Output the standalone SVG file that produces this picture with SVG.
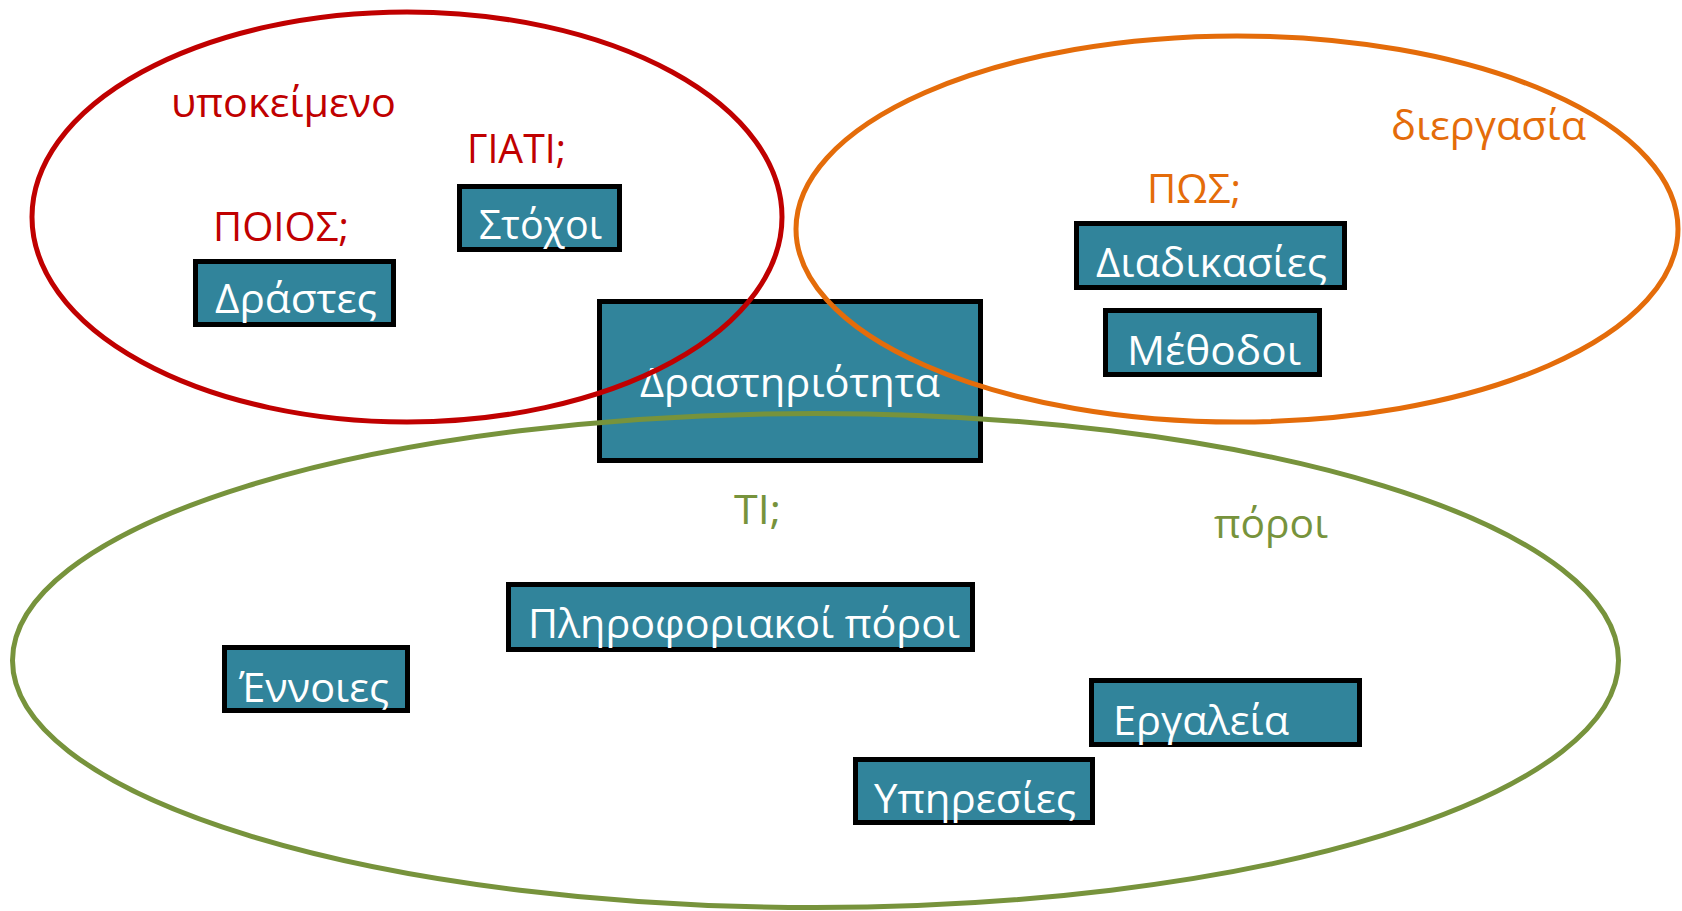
<svg xmlns="http://www.w3.org/2000/svg" width="1682" height="911" viewBox="0 0 1682 911">
<style>
.box{fill:#31849B;stroke:#000;stroke-width:5}
.bt{font-family:"Open Sans","Noto Sans",sans-serif;font-size:41px;fill:#fff}
.lbl{font-family:"Open Sans","Noto Sans",sans-serif;font-size:41px}
.red{fill:#C00000}.org{fill:#E46C0A}.grn{fill:#77933C}
.ell{fill:none;stroke-width:5}
</style>
<rect width="1682" height="911" fill="#fff"/>
<g id="node-drastiriotita">
<rect class="box" x="599.5" y="301.5" width="381" height="159"/>
<text class="bt" x="640" y="397" textLength="300" lengthAdjust="spacingAndGlyphs">Δραστηριότητα</text>
</g>
<g id="ellipses">
<ellipse id="ell-subject" class="ell" cx="407" cy="217" rx="375" ry="205" stroke="#C00000"/>
<ellipse id="ell-process" class="ell" cx="1237" cy="229" rx="441" ry="193" stroke="#E46C0A"/>
<ellipse id="ell-resources" class="ell" cx="815.5" cy="660.5" rx="803" ry="247" stroke="#77933C"/>
</g>
<g id="connectors"></g>
<g id="label-ypokeimeno"><text class="lbl red" x="171" y="117" textLength="225" lengthAdjust="spacingAndGlyphs">υποκείμενο</text></g>
<g id="label-giati"><text class="lbl red" x="467" y="163" textLength="99" lengthAdjust="spacingAndGlyphs">ΓΙΑΤΙ;</text></g>
<g id="label-poios"><text class="lbl red" x="213" y="241" textLength="136" lengthAdjust="spacingAndGlyphs">ΠΟΙΟΣ;</text></g>
<g id="label-diergasia"><text class="lbl org" x="1391" y="140" textLength="195" lengthAdjust="spacingAndGlyphs">διεργασία</text></g>
<g id="label-pos"><text class="lbl org" x="1147" y="203" textLength="94" lengthAdjust="spacingAndGlyphs">ΠΩΣ;</text></g>
<g id="label-ti"><text class="lbl grn" x="734" y="524" textLength="47" lengthAdjust="spacingAndGlyphs">ΤΙ;</text></g>
<g id="label-poroi"><text class="lbl grn" x="1214" y="538" textLength="114" lengthAdjust="spacingAndGlyphs">πόροι</text></g>
<g id="node-drastes">
<rect class="box" x="195.5" y="261.5" width="198" height="63"/>
<text class="bt" x="215" y="313" textLength="162" lengthAdjust="spacingAndGlyphs">Δράστες</text>
</g>
<g id="node-stoxoi">
<rect class="box" x="459.5" y="186.5" width="160" height="63"/>
<text class="bt" x="479" y="239" textLength="123" lengthAdjust="spacingAndGlyphs">Στόχοι</text>
</g>
<g id="node-diadikasies">
<rect class="box" x="1076.5" y="223.5" width="268" height="64"/>
<text class="bt" x="1096" y="277" textLength="231" lengthAdjust="spacingAndGlyphs">Διαδικασίες</text>
</g>
<g id="node-methodoi">
<rect class="box" x="1105.5" y="310.5" width="214" height="64"/>
<text class="bt" x="1127" y="365" textLength="174" lengthAdjust="spacingAndGlyphs">Μέθοδοι</text>
</g>
<g id="node-ennoies">
<rect class="box" x="224.5" y="647.5" width="183" height="63"/>
<text class="bt" x="239" y="702" textLength="150" lengthAdjust="spacingAndGlyphs">Έννοιες</text>
</g>
<g id="node-pliroforiakoi">
<rect class="box" x="508.5" y="584.5" width="464" height="65"/>
<text class="bt" x="528" y="638" textLength="432" lengthAdjust="spacingAndGlyphs">Πληροφοριακοί πόροι</text>
</g>
<g id="node-ergaleia">
<rect class="box" x="1091.5" y="680.5" width="268" height="64"/>
<text class="bt" x="1113" y="735" textLength="176" lengthAdjust="spacingAndGlyphs">Εργαλεία</text>
</g>
<g id="node-ypiresies">
<rect class="box" x="855.5" y="759.5" width="237" height="63"/>
<text class="bt" x="874" y="813" textLength="202" lengthAdjust="spacingAndGlyphs">Υπηρεσίες</text>
</g>
</svg>
